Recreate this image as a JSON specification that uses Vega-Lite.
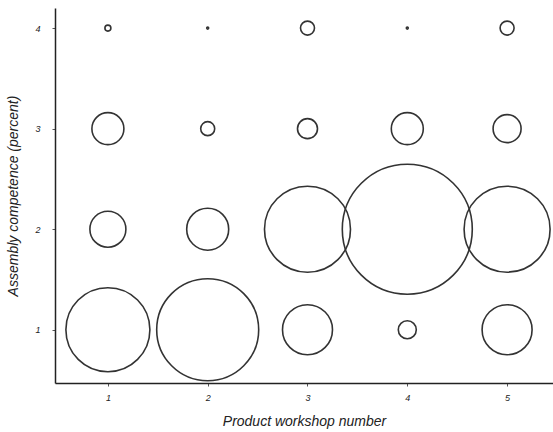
{
  "$schema": "https://vega.github.io/schema/vega-lite/v6.json",
  "width": 498,
  "height": 375,
  "autosize": {"type": "none"},
  "padding": {"left": 55, "top": 8, "right": 0, "bottom": 49},
  "background": "white",
  "config": {
    "view": {"stroke": null},
    "font": "Liberation Sans",
    "axis": {
      "grid": false,
      "domainColor": "#222",
      "domainWidth": 1.5,
      "tickColor": "#555",
      "tickSize": 3,
      "labelFont": "Liberation Sans",
      "labelFontStyle": "italic",
      "labelFontSize": 9,
      "labelColor": "#222",
      "titleFont": "Liberation Sans",
      "titleFontStyle": "italic",
      "titleFontWeight": "normal",
      "titleFontSize": 14,
      "titleColor": "#222"
    }
  },
  "data": {
    "values": [
      {"workshop": 1, "competence": 4, "count": 0.9},
      {"workshop": 2, "competence": 4, "count": 0.1},
      {"workshop": 3, "competence": 4, "count": 4.9},
      {"workshop": 4, "competence": 4, "count": 0.1},
      {"workshop": 5, "competence": 4, "count": 4.9},
      {"workshop": 1, "competence": 3, "count": 25.6},
      {"workshop": 2, "competence": 3, "count": 4.9},
      {"workshop": 3, "competence": 3, "count": 10},
      {"workshop": 4, "competence": 3, "count": 25.6},
      {"workshop": 5, "competence": 3, "count": 19.6},
      {"workshop": 1, "competence": 2, "count": 32.4},
      {"workshop": 2, "competence": 2, "count": 44.1},
      {"workshop": 3, "competence": 2, "count": 184.9},
      {"workshop": 4, "competence": 2, "count": 422.5},
      {"workshop": 5, "competence": 2, "count": 184.9},
      {"workshop": 1, "competence": 1, "count": 176.4},
      {"workshop": 2, "competence": 1, "count": 260.1},
      {"workshop": 3, "competence": 1, "count": 62.5},
      {"workshop": 4, "competence": 1, "count": 8.1},
      {"workshop": 5, "competence": 1, "count": 62.5}
    ]
  },
  "mark": {"type": "point", "shape": "circle", "filled": false, "stroke": "#333", "strokeWidth": 1.6, "opacity": 1},
  "encoding": {
    "x": {
      "field": "workshop", "type": "quantitative",
      "scale": {"domain": [0.47, 5.46], "nice": false, "zero": false},
      "axis": {"values": [1, 2, 3, 4, 5], "format": "d", "title": "Product workshop number", "labelPadding": 7, "titlePadding": 12}
    },
    "y": {
      "field": "competence", "type": "quantitative",
      "scale": {"domain": [0.47, 4.2], "nice": false, "zero": false},
      "axis": {"values": [1, 2, 3, 4], "format": "d", "title": "Assembly competence (percent)", "labelPadding": 12, "titlePadding": 14}
    },
    "size": {
      "field": "count", "type": "quantitative",
      "scale": {"type": "linear", "domain": [0, 400], "range": [0, 16000], "zero": true},
      "legend": null
    }
  }
}
